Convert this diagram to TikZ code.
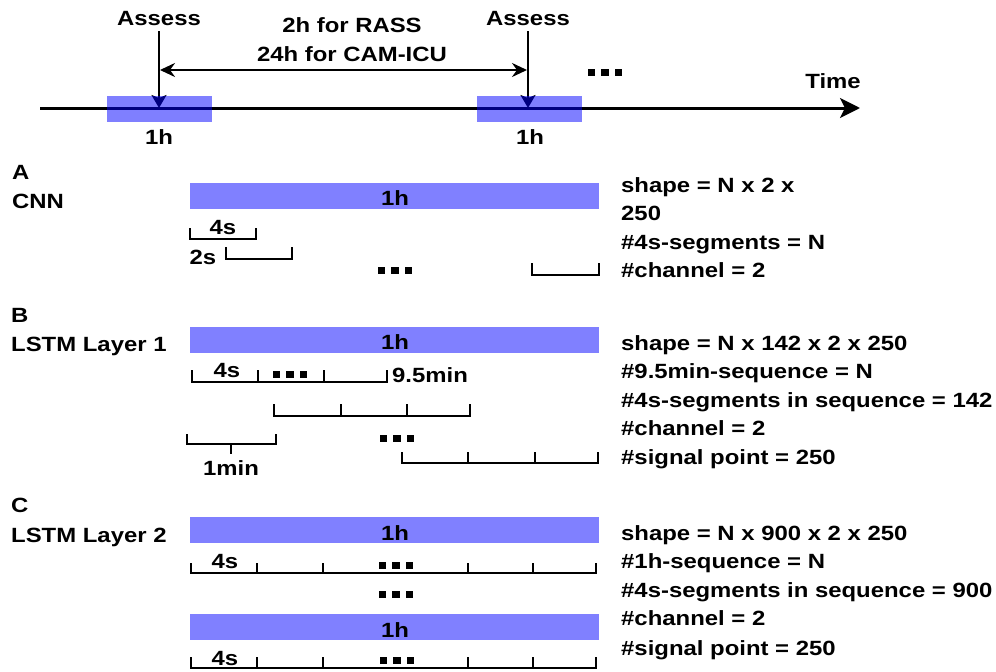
\documentclass[tikz,border=0pt]{standalone}
\usepackage{fontspec}
\setmainfont{Liberation Sans}[FakeStretch=1.16]
\usetikzlibrary{arrows.meta}
\definecolor{barblue}{RGB}{128,128,255}
\begin{document}
\begin{tikzpicture}[x=1pt,y=-1pt,
  lbl/.style={font=\fontsize{20.6}{24}\selectfont\bfseries, inner sep=0pt, anchor=base},
  lblw/.style={lbl, anchor=base west},
  timeline/.style={line width=3pt, -{Stealth[length=20pt,width=20pt,inset=5pt]}},
  varrow/.style={line width=2.2pt, -{Stealth[length=13pt,width=15pt,inset=3pt]}},
  darrow/.style={line width=2.4pt, {Stealth[length=15pt,width=14pt,inset=5pt]}-{Stealth[length=15pt,width=14pt,inset=5pt]}},
  window/.style={draw=none, fill=blue, fill opacity=0.5, minimum width=105pt, minimum height=26pt, inner sep=0pt},
  bar/.style={draw=none, fill=barblue, minimum width=409pt, minimum height=26pt, inner sep=0pt},
  brk/.style={line width=2.4pt, line join=miter},
  sqdots/.pic={\foreach \i in {-1,0,1} \fill (\i*13.5-3.6,-3.5) rectangle ++(7.2,7);}
]
\useasboundingbox (0,0) rectangle (996,672);

% ---------- time axis with assessment windows ----------
\node[lbl] (assess1) at (159,25) {Assess};
\node[lbl] (assess2) at (528,25) {Assess};
\coordinate (tstart) at (40,108);
\coordinate (tend) at (860,108);
\coordinate (t1) at (159,108);
\coordinate (t2) at (528,108);
\coordinate (h1) at (159,70);
\coordinate (h2) at (528,70);
\draw[timeline] (tstart) -- (tend);
\draw[varrow] (assess1.south) ++(0,6) coordinate (v1) -- (t1);
\draw[varrow] (assess2.south) ++(0,6) coordinate (v2) -- (t2);
\draw[darrow, shorten <=1pt, shorten >=1pt] (h1) -- (h2);
\node[window] (win1) at (159.5,109) {};
\node[window] (win2) at (529.5,109) {};
\node[lbl] (gap1) at (352,32) {2h for RASS};
\node[lbl] (gap2) at (352,61) {24h for CAM-ICU};
\pic at (605,72) {sqdots};
\node[lbl] (time) at (833,88) {Time};
\node[lbl] (w1h) at (159,144) {1h};
\node[lbl] (w2h) at (530,144) {1h};

% ---------- A: CNN ----------
\node[lblw] (secA) at (12,179) {A};
\node[lblw] (cnn) at (12,208) {CNN};
\node[bar] (barA) at (394.5,195.5) {};
\node[lbl] (barAh) at (395,205) {1h};
\node[lblw] (a1) at (621,192) {shape = N x 2 x};
\node[lblw] (a2) at (621,220) {250};
\node[lblw] (a3) at (621,249) {\#4s-segments = N};
\node[lblw] (a4) at (621,277) {\#channel = 2};
\draw[brk] (190,228) |- (256,239) -- (256,228);
\node[lbl] (a4s) at (223,234) {4s};
\draw[brk] (226,247) |- (292,259) -- (292,247);
\node[lbl] (a2s) at (203,264) {2s};
\pic at (395,270) {sqdots};
\draw[brk] (532,263) |- (599,275) -- (599,263);

% ---------- B: LSTM layer 1 ----------
\node[lblw] (secB) at (11,322) {B};
\node[lblw] (lstm1) at (11,351) {LSTM Layer 1};
\node[bar] (barB) at (394.5,340) {};
\node[lbl] (barBh) at (395,349) {1h};
\node[lblw] (b1) at (621,350) {shape = N x 142 x 2 x 250};
\node[lblw] (b2) at (621,378) {\#9.5min-sequence = N};
\node[lblw] (b3) at (621,407) {\#4s-segments in sequence = 142};
\node[lblw] (b4) at (621,435) {\#channel = 2};
\node[lblw] (b5) at (621,464) {\#signal point = 250};
% first 9.5 min sequence
\draw[brk] (192,370) |- (387,382) -- (387,370);
\foreach \x in {258,324} \draw[brk] (\x,382) -- (\x,370);
\node[lbl] (b4s) at (227,377) {4s};
\pic at (290,374) {sqdots};
\node[lblw] (b95) at (392,382) {9.5min};
% sequence shifted by 1 min
\draw[brk] (274,404) |- (470,416) -- (470,404);
\foreach \x in {341,407} \draw[brk] (\x,416) -- (\x,404);
% 1 min stride
\draw[brk] (187,434) |- (276,444) -- (276,434);
\draw[brk] (231,444) -- (231,454);
\node[lbl] (b1min) at (231,475) {1min};
\pic at (397,438) {sqdots};
% last sequence
\draw[brk] (402,452) |- (598,463) -- (598,452);
\foreach \x in {468,535} \draw[brk] (\x,463) -- (\x,452);

% ---------- C: LSTM layer 2 ----------
\node[lblw] (secC) at (11,512) {C};
\node[lblw] (lstm2) at (11,542) {LSTM Layer 2};
\node[bar] (barC1) at (394.5,530) {};
\node[lbl] (barC1h) at (395,540) {1h};
\node[lblw] (c1) at (621,540) {shape = N x 900 x 2 x 250};
\node[lblw] (c2) at (621,568) {\#1h-sequence = N};
\node[lblw] (c3) at (621,597) {\#4s-segments in sequence = 900};
\node[lblw] (c4) at (621,625) {\#channel = 2};
\node[lblw] (c5) at (621,655) {\#signal point = 250};
\draw[brk] (191,563) |- (596,573) -- (596,563);
\foreach \x in {257,323,468,533} \draw[brk] (\x,573) -- (\x,563);
\node[lbl] (c4s1) at (225,568) {4s};
\pic at (396,565) {sqdots};
\pic at (396,594) {sqdots};
\node[bar] (barC2) at (394.5,627) {};
\node[lbl] (barC2h) at (395,637) {1h};
\draw[brk] (191,657) |- (596,668) -- (596,657);
\foreach \x in {257,323,468,533} \draw[brk] (\x,668) -- (\x,657);
\node[lbl] (c4s2) at (225,665) {4s};
\pic at (397,660) {sqdots};
\end{tikzpicture}
\end{document}
